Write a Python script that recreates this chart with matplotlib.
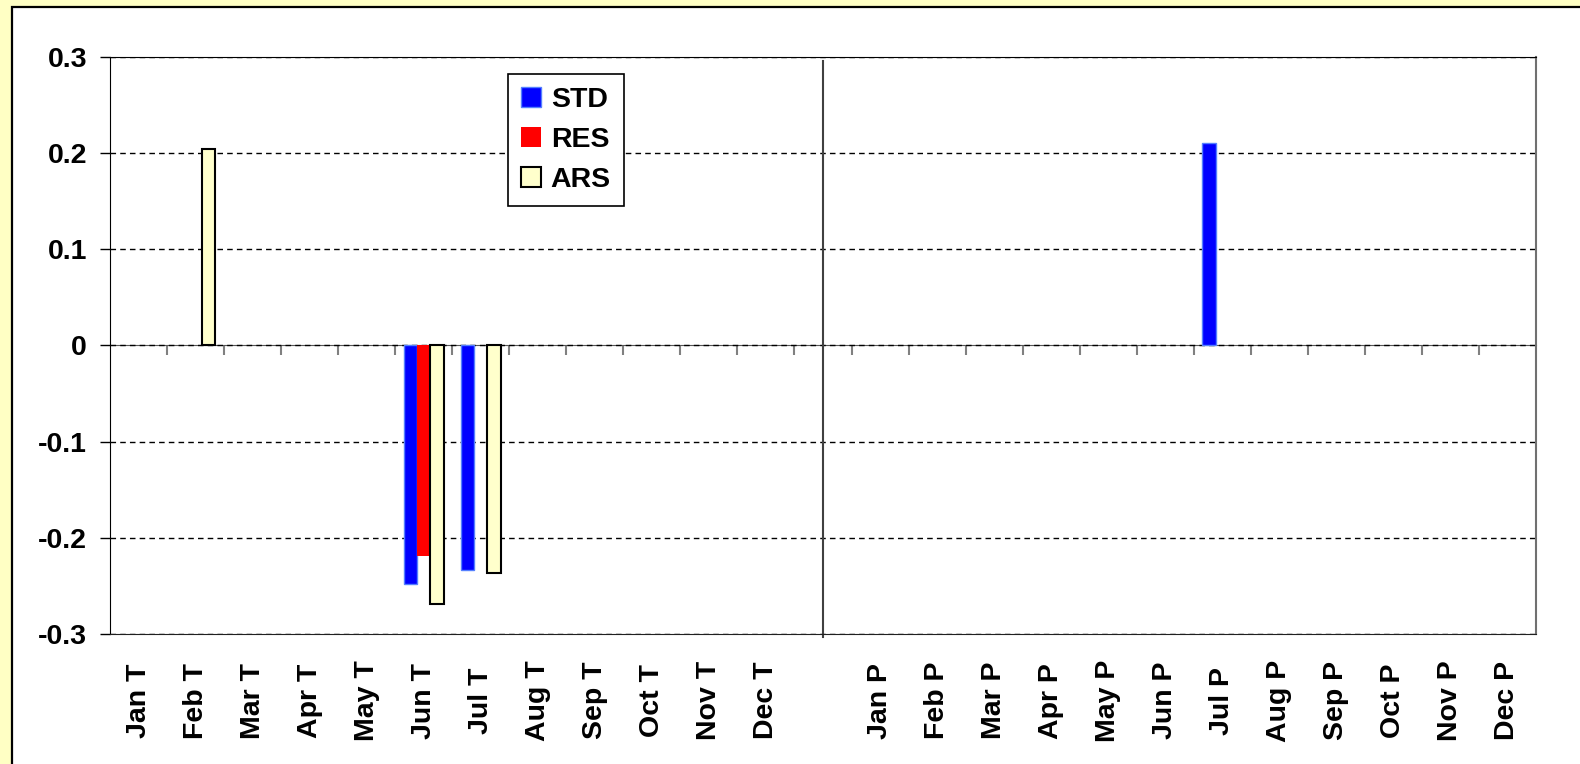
import numpy as np
import matplotlib
matplotlib.use("Agg")
import matplotlib.pyplot as plt
from matplotlib.patches import Rectangle

plt.rcParams["font.family"] = ["Liberation Sans", "DejaVu Sans"]
plt.rcParams["font.weight"] = "bold"

nan = np.nan

categories = [
    "Jan T", "Feb T", "Mar T", "Apr T", "May T", "Jun T",
    "Jul T", "Aug T", "Sep T", "Oct T", "Nov T", "Dec T",
    "",
    "Jan P", "Feb P", "Mar P", "Apr P", "May P", "Jun P",
    "Jul P", "Aug P", "Sep P", "Oct P", "Nov P", "Dec P",
]

std = [nan, nan, nan, nan, nan, -0.248, -0.233, nan, nan, nan, nan, nan,
       nan,
       nan, nan, nan, nan, nan, nan, 0.21, nan, nan, nan, nan, nan]
res = [nan, nan, nan, nan, nan, -0.219, nan, nan, nan, nan, nan, nan,
       nan,
       nan, nan, nan, nan, nan, nan, nan, nan, nan, nan, nan, nan]
ars = [nan, 0.204, nan, nan, nan, -0.269, -0.237, nan, nan, nan, nan, nan,
       nan,
       nan, nan, nan, nan, nan, nan, nan, nan, nan, nan, nan, nan]

y_ticks = [-0.3, -0.2, -0.1, 0, 0.1, 0.2, 0.3]
y_labels = ["-0.3", "-0.2", "-0.1", "0", "0.1", "0.2", "0.3"]

W, H = 1580, 764
fig = plt.figure(figsize=(W / 100, H / 100), dpi=100)
fig.patch.set_facecolor("#FFFFC4")

# white chart area with dark frame
frame = Rectangle((11.7 / W, -0.05), 1.1, 1 - 7.3 / H + 0.05,
                  transform=fig.transFigure, facecolor="white",
                  edgecolor="black", linewidth=1.6, zorder=-10)
fig.add_artist(frame)

ax = fig.add_axes([110 / W, 1 - 634 / H, 1426 / W, (634 - 56.7) / H])
ax.set_facecolor("white")

x = np.arange(len(categories))
w = 0.233
b_std = ax.bar(x - w, std, w, color="#0000FF", edgecolor="#5580FF", linewidth=1.0,
               label="STD", zorder=3)
b_res = ax.bar(x, res, w, color="#FF0000", linewidth=0, label="RES", zorder=3)
b_ars = ax.bar(x + w, ars, w, color="#FFFFCC", edgecolor="black", linewidth=1.5,
               label="ARS", zorder=3)

ax.set_xlim(-0.5, len(categories) - 0.5)
ax.set_ylim(-0.3, 0.3)

ax.set_yticks(y_ticks)
ax.set_yticklabels(y_labels)
ax.yaxis.grid(True, linestyle=(0, (4, 3)), color="black", linewidth=1)
ax.set_axisbelow(True)
ax.tick_params(axis="y", direction="out", length=7.5, width=1, color="black",
               pad=9, labelsize=20.5)

ax.set_xticks(x)
ax.set_xticklabels(categories, rotation=90)
ax.tick_params(axis="x", length=0, pad=48, labelsize=20.5)
for lbl in ax.get_xticklabels():
    lbl.set_verticalalignment("center")

ax.spines["left"].set_color("black")
ax.spines["top"].set_color("black")
ax.spines["right"].set_color("#707070")
ax.spines["right"].set_linewidth(1.5)
ax.spines["bottom"].set_color("#202020")

# category axis crossing at zero with tick marks between categories
sec = ax.secondary_xaxis(0.5)
sec.set_alignment("bottom")
sec.set_xticks(np.arange(0.5, len(categories) - 1, 1))
sec.tick_params(direction="out", length=7.5, width=1.5, color="#808080",
                labelbottom=False)
sec.spines["bottom"].set_color("#555555")

# divider between the T and P groups
ax.axvline(categories.index(""), ymin=-0.005, ymax=0.993, color="#404040",
           linewidth=1.5, clip_on=False, zorder=2)

leg = ax.legend(handles=[b_std, b_res, b_ars], loc="upper left",
                bbox_to_anchor=(508 / W, 1 - 74 / H), bbox_transform=fig.transFigure,
                borderaxespad=0, fancybox=False, framealpha=1, edgecolor="black",
                fontsize=20.5, handlelength=0.7, handleheight=0.7, handletextpad=0.35,
                labelspacing=0.5, borderpad=0.45)
leg.get_frame().set_linewidth(1.2)

fig.savefig("out.png", dpi=100, facecolor=fig.get_facecolor())
